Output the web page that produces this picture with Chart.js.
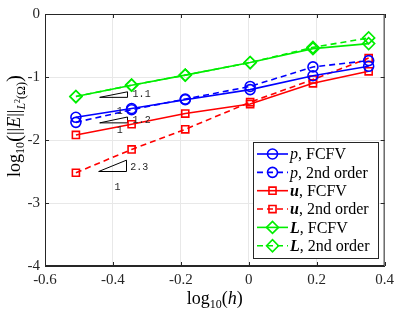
<!DOCTYPE html>
<html>
<head>
<meta charset="utf-8">
<script src="https://cdn.jsdelivr.net/npm/chart.js@4/dist/chart.umd.min.js"></script>
<style>
  html, body { margin: 0; padding: 0; background: #fff; }
  #wrap { width: 399px; height: 315px; position: relative; }
</style>
</head>
<body>
<div id="wrap"><canvas id="chartErrores"></canvas></div>
<script>
// log10(h) de cada malla
const logH = [-0.509, -0.345, -0.187, 0.004, 0.189, 0.353];

// log10 del error en norma L2
const pFCFV = [-1.64, -1.50, -1.36, -1.20, -0.98, -0.83];
const p2do  = [-1.72, -1.52, -1.35, -1.15, -0.84, -0.74];
const uFCFV = [-1.92, -1.75, -1.58, -1.43, -1.10, -0.91];
const u2do  = [-2.52, -2.15, -1.83, -1.40, -1.04, -0.70];
const LFCFV = [-1.31, -1.13, -0.97, -0.77, -0.55, -0.47];
const L2do  = [-1.31, -1.13, -0.97, -0.77, -0.53, -0.38];

const xTicks = ['-0.6', '-0.4', '-0.2', '0', '0.2', '0.4'];
const yTicks = ['-4', '-3', '-2', '-1', '0'];

// triangulos de pendiente: [x0, x1, y0, y1]
const triangulos = [
    [-0.439, -0.357, -1.323, -1.235],
    [-0.439, -0.357, -1.728, -1.635],
    [-0.442, -0.360, -2.500, -2.320]
];
const pendientes = [
    { txt: '1.1', x: -0.342, y: -1.28 },
    { txt: '1',   x: -0.389, y: -1.55 },
    { txt: '1.2', x: -0.342, y: -1.69 },
    { txt: '1',   x: -0.389, y: -1.84 },
    { txt: '2.3', x: -0.349, y: -2.44 },
    { txt: '1',   x: -0.395, y: -2.75 }
];

const SERIF = '"Liberation Serif", "DejaVu Serif", serif';

function serie(ys, color, estilo, dash) {
    return {
        data: logH.map((x, i) => ({ x: x, y: ys[i] })),
        borderColor: color,
        backgroundColor: 'rgba(0,0,0,0)',
        borderWidth: 1.6,
        borderDash: dash ? [6, 4] : [],
        pointStyle: estilo,
        pointRadius: estilo === 'rectRot' ? 6 : 5,
        pointBorderWidth: 1.6,
        pointBorderColor: color,
        pointBackgroundColor: 'rgba(0,0,0,0)',
        showLine: true,
        tension: 0
    };
}

const series = [
    { ds: serie(pFCFV, '#0000ff', 'circle', false),  var: 'p', bold: false, txt: ', FCFV' },
    { ds: serie(p2do,  '#0000ff', 'circle', true),   var: 'p', bold: false, txt: ', 2nd order' },
    { ds: serie(uFCFV, '#ff0000', 'rect', false),    var: 'u', bold: true,  txt: ', FCFV' },
    { ds: serie(u2do,  '#ff0000', 'rect', true),     var: 'u', bold: true,  txt: ', 2nd order' },
    { ds: serie(LFCFV, '#00ee00', 'rectRot', false), var: 'L', bold: true,  txt: ', FCFV' },
    { ds: serie(L2do,  '#00ee00', 'rectRot', true),  var: 'L', bold: true,  txt: ', 2nd order' }
];

const datasetsTri = triangulos.map(t => ({
    data: [{ x: t[0], y: t[2] }, { x: t[1], y: t[2] }, { x: t[1], y: t[3] }, { x: t[0], y: t[2] }],
    borderColor: '#000',
    borderWidth: 1,
    pointRadius: 0,
    showLine: true,
    tension: 0
}));

// dibuja texto con trozos de distinta fuente
function dibujarRuns(ctx, runs, x, y) {
    let cx = x;
    runs.forEach(r => {
        ctx.font = r.f;
        ctx.fillText(r.t, cx, y + (r.dy || 0));
        cx += ctx.measureText(r.t).width;
    });
    return cx;
}
function anchoRuns(ctx, runs) {
    let w = 0;
    runs.forEach(r => { ctx.font = r.f; w += ctx.measureText(r.t).width; });
    return w;
}

const extras = {
    id: 'extras',
    afterDraw(chart) {
        const ctx = chart.ctx;
        const a = chart.chartArea;
        const xs = chart.scales.x, ys = chart.scales.y;
        ctx.save();

        // caja y marcas interiores
        ctx.strokeStyle = '#262626';
        ctx.lineWidth = 1;
        ctx.strokeRect(a.left + 0.5, a.top + 0.5, a.right - a.left - 1, a.bottom - a.top - 1);
        ctx.beginPath();
        xs.ticks.forEach(t => {
            const px = Math.round(xs.getPixelForValue(t.value)) + 0.5;
            ctx.moveTo(px, a.bottom); ctx.lineTo(px, a.bottom - 4);
            ctx.moveTo(px, a.top); ctx.lineTo(px, a.top + 4);
        });
        ys.ticks.forEach(t => {
            const py = Math.round(ys.getPixelForValue(t.value)) + 0.5;
            ctx.moveTo(a.left, py); ctx.lineTo(a.left + 4, py);
            ctx.moveTo(a.right, py); ctx.lineTo(a.right - 4, py);
        });
        ctx.stroke();

        // etiquetas de pendiente
        ctx.fillStyle = '#262626';
        ctx.font = '10px "Liberation Mono", "DejaVu Sans Mono", monospace';
        ctx.textBaseline = 'middle';
        ctx.textAlign = 'left';
        pendientes.forEach(p => {
            ctx.fillText(p.txt, xs.getPixelForValue(p.x), ys.getPixelForValue(p.y));
        });

        // titulo eje x
        ctx.fillStyle = '#000';
        ctx.textBaseline = 'alphabetic';
        const rx = [
            { t: 'log', f: '18px ' + SERIF },
            { t: '10', f: '12px ' + SERIF, dy: 4 },
            { t: '(', f: '18px ' + SERIF },
            { t: 'h', f: 'italic 18px ' + SERIF },
            { t: ')', f: '18px ' + SERIF }
        ];
        const wx = anchoRuns(ctx, rx);
        dibujarRuns(ctx, rx, (a.left + a.right) / 2 - wx / 2, 304);

        // titulo eje y
        const ry = [
            { t: 'log', f: '18px ' + SERIF },
            { t: '10', f: '12px ' + SERIF, dy: 4 },
            { t: '(', f: '21px ' + SERIF, dy: 1 },
            { t: '||', f: '18px ' + SERIF },
            { t: 'E', f: 'italic 18px ' + SERIF },
            { t: '||', f: '18px ' + SERIF },
            { t: 'L', f: 'italic 12px ' + SERIF, dy: 5 },
            { t: '2', f: '8px ' + SERIF, dy: 0 },
            { t: '(Ω)', f: '12px ' + SERIF, dy: 5 },
            { t: ')', f: '21px ' + SERIF, dy: 1 }
        ];
        const wy = anchoRuns(ctx, ry);
        ctx.translate(20, 126);
        ctx.rotate(-Math.PI / 2);
        dibujarRuns(ctx, ry, -wy / 2, 0);
        ctx.setTransform(1, 0, 0, 1, 0, 0);

        // leyenda
        const lx = 253, ly = 142, lw = 125, lh = 116;
        ctx.fillStyle = '#fff';
        ctx.fillRect(lx, ly, lw, lh);
        ctx.strokeStyle = '#262626';
        ctx.lineWidth = 1;
        ctx.strokeRect(lx + 0.5, ly + 0.5, lw, lh);
        series.forEach((s, i) => {
            const cy = 154 + i * 18.35;
            const d = s.ds;
            ctx.strokeStyle = d.borderColor;
            ctx.lineWidth = 1.6;
            ctx.setLineDash(d.borderDash);
            ctx.beginPath();
            ctx.moveTo(257, cy); ctx.lineTo(288, cy);
            ctx.stroke();
            ctx.setLineDash([]);
            ctx.fillStyle = 'rgba(0,0,0,0)';
            Chart.helpers.drawPoint(ctx, {
                pointStyle: d.pointStyle, radius: d.pointRadius, borderWidth: 1.6
            }, 272.5, cy);
            ctx.fillStyle = '#000';
            ctx.textBaseline = 'middle';
            dibujarRuns(ctx, [
                { t: s.var, f: (s.bold ? 'bold italic ' : 'italic ') + '16px ' + SERIF },
                { t: s.txt, f: '16px ' + SERIF }
            ], 290, cy + 1);
        });
        ctx.restore();
    }
};

const ctx = document.getElementById('chartErrores').getContext('2d');
new Chart(ctx, {
    type: 'scatter',
    data: { datasets: series.map(s => s.ds).concat(datasetsTri) },
    options: {
        responsive: true,
        maintainAspectRatio: false,
        animation: false,
        layout: { padding: { top: 7, right: 13, left: 0, bottom: 0 } },
        plugins: { legend: { display: false }, tooltip: { enabled: false } },
        scales: {
            x: {
                type: 'linear', min: -0.6, max: 0.4,
                afterFit: s => { s.height = 49; },
                ticks: {
                    stepSize: 0.2, padding: 5, color: '#262626',
                    font: { family: SERIF, size: 15 },
                    callback: (v, i) => xTicks[i]
                },
                grid: { color: '#e8e8e8', drawTicks: false },
                border: { color: '#262626' }
            },
            y: {
                type: 'linear', min: -4, max: 0,
                afterFit: s => { s.width = 45; },
                ticks: {
                    stepSize: 1, padding: 5, color: '#262626',
                    font: { family: SERIF, size: 15 },
                    callback: (v, i) => yTicks[i]
                },
                grid: { color: '#e8e8e8', drawTicks: false },
                border: { color: '#262626' }
            }
        }
    },
    plugins: [extras]
});
</script>
</body>
</html>
